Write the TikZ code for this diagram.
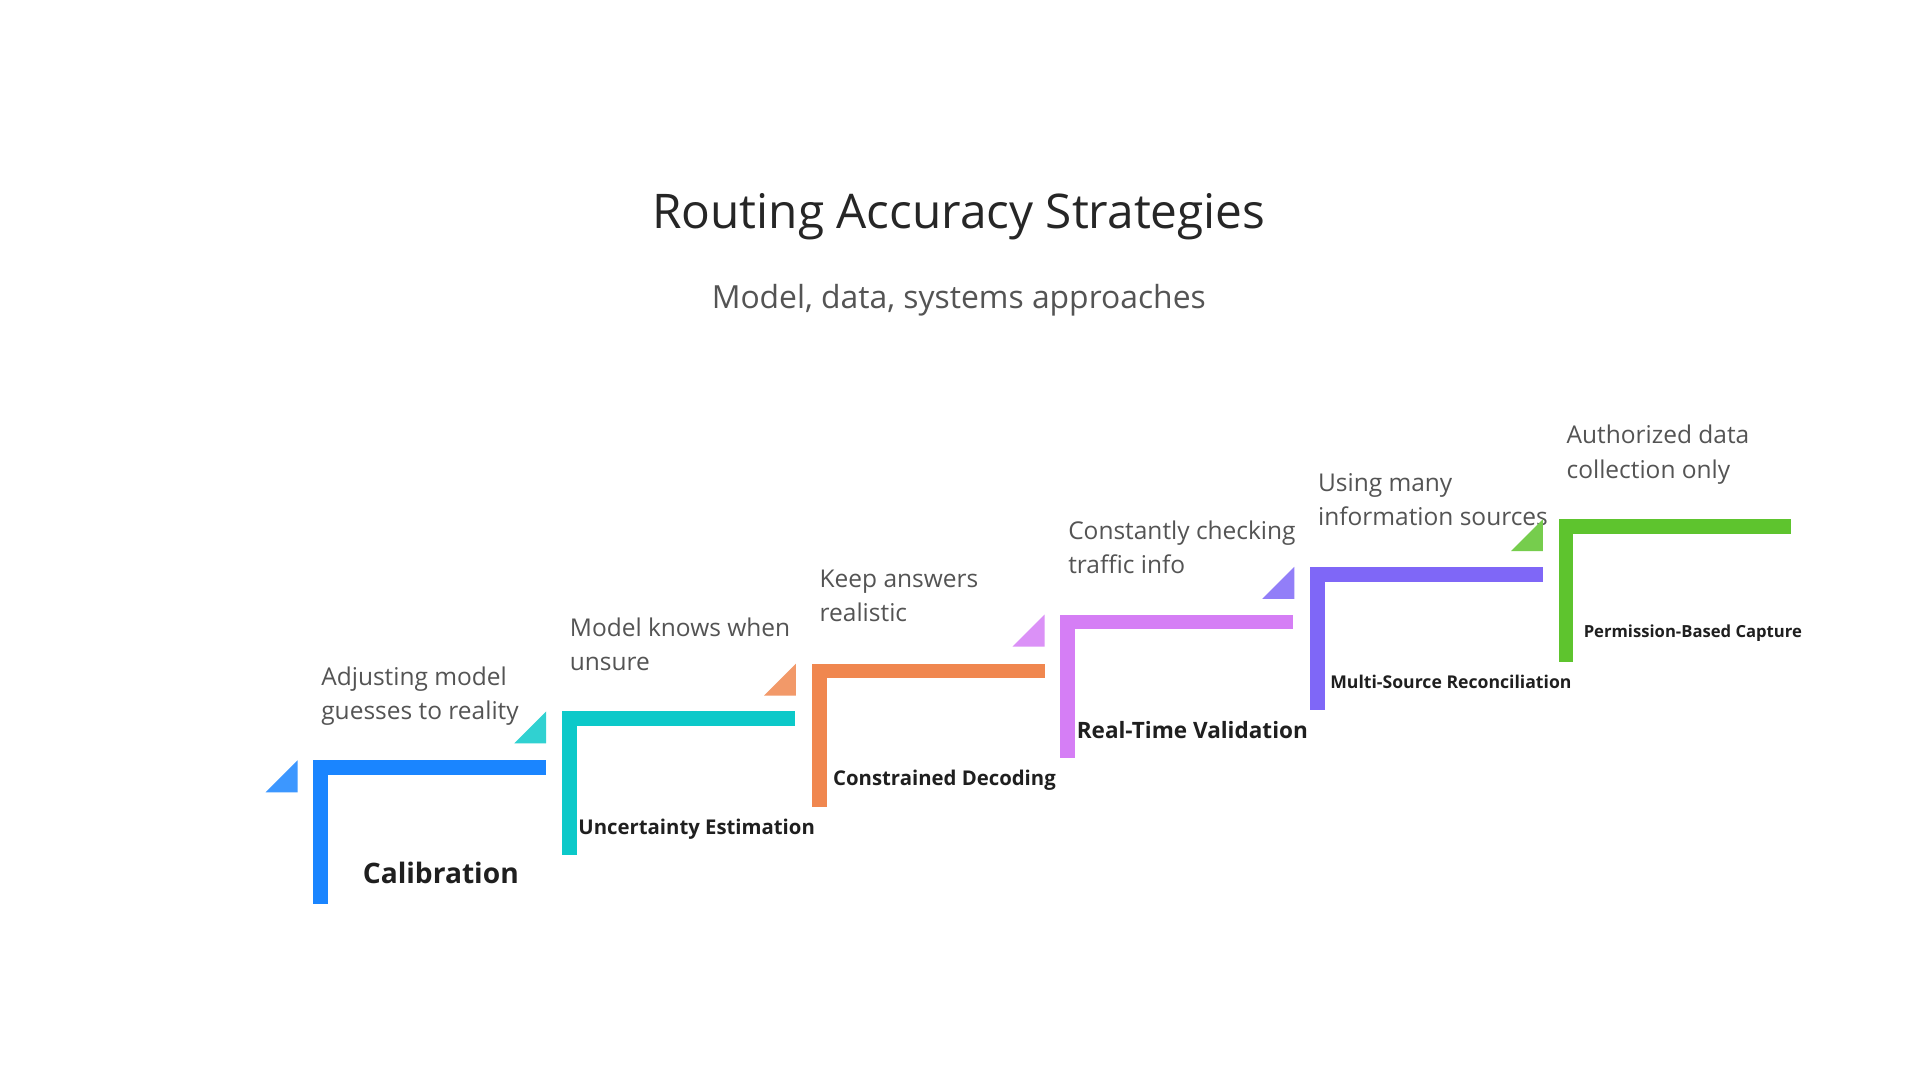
\documentclass[tikz,border=0pt]{standalone}
\usepackage{fontspec}
\setmainfont{Open Sans}
\begin{document}
\begin{tikzpicture}[x=0.5pt,y=-0.5pt,
 desc/.style={anchor=north west,align=left,text=black!67,font=\fontsize{10}{14}\selectfont,inner sep=0pt},
 lab/.style={anchor=west,inner sep=0pt,text=black!88}]
\useasboundingbox (0,0) rectangle (1568,882);
\fill[white] (0,0) rectangle (1568,882);
\node[text=black!85,font=\fontsize{19.5}{22}\selectfont] (title) at (783,177) {Routing Accuracy Strategies};
\node[text=black!67,font=\fontsize{13}{16}\selectfont] (sub) at (783,245) {Model, data, systems approaches};
\definecolor{c1}{HTML}{1A85FF}\definecolor{c2}{HTML}{0CC9C9}\definecolor{c3}{HTML}{F0874F}
\definecolor{c4}{HTML}{D57EF5}\definecolor{c5}{HTML}{7F67F7}\definecolor{c6}{HTML}{5EC42E}
\foreach \i/\x/\y/\c/\d in {1/256/621/c1/{Adjusting model\\guesses to reality},
 2/459/581/c2/{Model knows when\\unsure},
 3/663/542/c3/{Keep answers\\realistic},
 4/866/502/c4/{Constantly checking\\traffic info},
 5/1070/463/c5/{Using many\\information sources},
 6/1273/424/c6/{Authorized data\\collection only}}{
 \fill[\c] (\x,\y) rectangle ++(12,117);
 \fill[\c] (\x,\y) rectangle ++(190,12);
 \fill[\c!85] (\x-13,\y) -- (\x-13,\y+26) -- (\x-39,\y+26) -- cycle;
 \node[desc] (d\i) at (\x+6,\y-77) {\d};
}
\node[font=\fontsize{11.5}{14}\selectfont\bfseries,text=black!88] (l1) at (360,713) {Calibration};
\node[lab,font=\fontsize{8.3}{10}\selectfont\bfseries] (l2) at (472,677) {Uncertainty Estimation};
\node[lab,font=\fontsize{8.3}{10}\selectfont\bfseries] (l3) at (680,637) {Constrained Decoding};
\node[lab,font=\fontsize{9.2}{11}\selectfont\bfseries] (l4) at (879,596) {Real-Time Validation};
\node[lab,font=\fontsize{7.2}{9}\selectfont\bfseries] (l5) at (1086,557) {Multi-Source Reconciliation};
\node[lab,font=\fontsize{6.8}{8}\selectfont\bfseries] (l6) at (1293,517) {Permission-Based Capture};
\end{tikzpicture}
\end{document}
